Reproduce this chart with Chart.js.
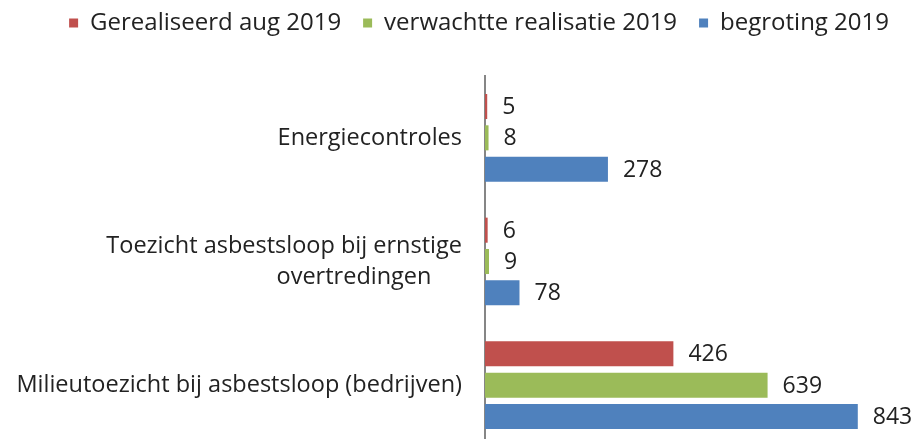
<!DOCTYPE html>
<html>
<head>
<meta charset="UTF-8">
<script src="https://cdn.jsdelivr.net/npm/chart.js"></script>
<style>
  html, body { margin: 0; padding: 0; background: #fff; overflow: hidden; }
  #wrap { width: 915px; height: 450px; }
</style>
</head>
<body>
<div id="wrap"><canvas id="chart"></canvas></div>
<script>
const categories = [
  'Energiecontroles',
  ['Toezicht asbestsloop bij ernstige', 'overtredingen     '],
  'Milieutoezicht bij asbestsloop (bedrijven)'
];
const seriesNames = ['Gerealiseerd aug 2019', 'verwachtte realisatie 2019', 'begroting 2019'];
const gerealiseerd = [5, 6, 426];
const verwacht = [8, 9, 639];
const begroting = [278, 78, 843];
const colors = ['#C0504D', '#9BBB59', '#4F81BD'];

const FONT = 'Open Sans';
const SIZE = 23.5;
const TEXT = '#222222';

// value next to the end of every bar
const valueLabels = {
  id: 'valueLabels',
  afterDatasetsDraw(chart) {
    const ctx = chart.ctx;
    ctx.save();
    ctx.font = '23px "' + FONT + '"';
    ctx.fillStyle = TEXT;
    ctx.textAlign = 'left';
    ctx.textBaseline = 'middle';
    chart.data.datasets.forEach((ds, i) => {
      chart.getDatasetMeta(i).data.forEach((bar, j) => {
        ctx.fillText(ds.data[j], bar.x + 15, bar.y + 1);
      });
    });
    ctx.restore();
  }
};

// extra room under the legend, and nudge the legend row
const legendTweak = {
  id: 'legendTweak',
  beforeInit(chart) {
    const legend = chart.legend;
    const fit = legend.fit;
    const draw = legend.draw;
    legend.fit = function () {
      fit.call(this);
      this.height += 20;
    };
    legend.draw = function () {
      this.ctx.save();
      this.ctx.translate(28, -11);
      draw.apply(this, arguments);
      this.ctx.restore();
    };
  }
};

new Chart(document.getElementById('chart'), {
  type: 'bar',
  data: {
    labels: categories,
    datasets: [
      { label: seriesNames[0], data: gerealiseerd, backgroundColor: colors[0] },
      { label: seriesNames[1], data: verwacht, backgroundColor: colors[1] },
      { label: seriesNames[2], data: begroting, backgroundColor: colors[2] }
    ]
  },
  options: {
    indexAxis: 'y',
    responsive: true,
    maintainAspectRatio: false,
    animation: false,
    layout: { padding: { top: 0, right: 32, bottom: 3, left: 0 } },
    datasets: { bar: { categoryPercentage: 0.76, barPercentage: 0.8 } },
    scales: {
      x: { display: false, min: 0, max: 900 },
      y: {
        afterFit(scale) {
          scale.width = 485;
          scale.paddingTop = 0;
          scale.paddingBottom = 0;
        },
        grid: { display: true, drawOnChartArea: false, drawTicks: false },
        border: { display: true, color: '#868686', width: 2 },
        ticks: { color: TEXT, padding: 23, font: { family: FONT, size: SIZE, lineHeight: 1.33 } }
      }
    },
    plugins: {
      legend: {
        position: 'top',
        align: 'end',
        labels: {
          boxWidth: 9, boxHeight: 9, padding: 22, color: TEXT,
          font: { family: FONT, size: 24 }
        }
      },
      tooltip: { enabled: false }
    }
  },
  plugins: [valueLabels, legendTweak]
});
</script>
</body>
</html>
